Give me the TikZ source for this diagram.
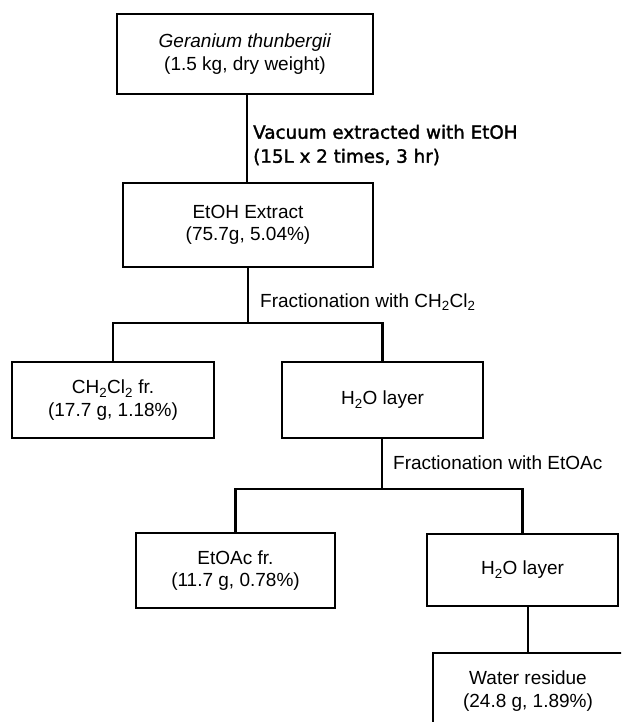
\documentclass[tikz,border=0pt]{standalone}
\usepackage{fontspec}
\setmainfont{Liberation Sans}
\newfontfamily\labfont[FakeBold=1.6]{DejaVu Sans}
\begin{document}
\begin{tikzpicture}[x=1pt,y=-1pt,
  box/.style={draw,line width=2.9pt,inner sep=0pt,align=center,
    font=\fontsize{19}{22.5}\selectfont,line join=miter},
  conn/.style={line width=2.9pt,line join=miter},
  lab/.style={inner sep=0pt,anchor=west,align=left,font=\fontsize{19}{22.5}\selectfont},
  vlab/.style={inner sep=0pt,anchor=west,align=left,font=\labfont\fontsize{18.3}{24}\selectfont}]
\useasboundingbox (0,0) rectangle (621,722);
\clip (0,0) rectangle (621,722);
\fill[white] (0,0) rectangle (621,722);

\node[box,minimum width=256pt,minimum height=80pt] (b1) at (245,54)
  {\textit{Geranium thunbergii}\\(1.5 kg, dry weight)};
\node[box,minimum width=250pt,minimum height=84pt] (b2) at (248,225)
  {EtOH Extract\\(75.7g, 5.04\%)};
\node[box,minimum width=202pt,minimum height=76pt] (b3) at (113,400)
  {CH\textsubscript{2}Cl\textsubscript{2} fr.\\(17.7 g, 1.18\%)};
\node[box,minimum width=201pt,minimum height=76pt] (b4) at (382.5,400)
  {H\textsubscript{2}O layer};
\node[box,minimum width=199pt,minimum height=75pt] (b5) at (235.5,570.5)
  {EtOAc fr.\\(11.7 g, 0.78\%)};
\node[box,minimum width=191pt,minimum height=72pt] (b6) at (522.5,570)
  {H\textsubscript{2}O layer};
\node[box,minimum width=190pt,minimum height=76pt] (b7) at (528,691)
  {Water residue\\(24.8 g, 1.89\%)};

\coordinate (j1) at (248,323);
\coordinate (j2) at (382,489);

\draw[conn] (b1.south -| 247,0) -- (b2.north -| 247,0);
\draw[conn] (b2.south) -- (j1);
\draw[conn] (b3.north) |- (j1) -| (b4.north);
\draw[conn] (b4.south -| j2) -- (j2);
\draw[conn] (b5.north) |- (j2) -| (b6.north);
\draw[conn] (b7.north |- b6.south) -- (b7.north);

\node[vlab] (l1) at (253,145) {Vacuum extracted with EtOH\\(15L x 2 times, 3 hr)};
\node[lab] (l2) at (260,302) {Fractionation with CH\textsubscript{2}Cl\textsubscript{2}};
\node[lab] (l3) at (393,463) {Fractionation with EtOAc};
\end{tikzpicture}
\end{document}
